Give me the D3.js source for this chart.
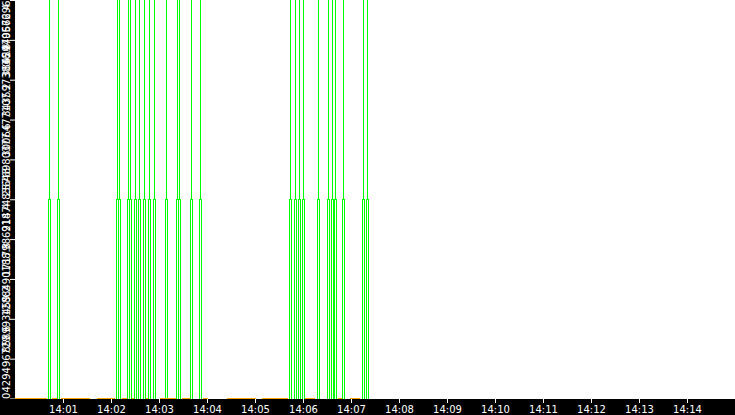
<!DOCTYPE html>
<html>
<head>
<meta charset="utf-8">
<script src="https://cdn.jsdelivr.net/npm/d3@7"></script>
<style>
html,body{margin:0;padding:0;background:#fff;overflow:hidden}
svg{display:block}
</style>
</head>
<body>
<svg id="chart" width="735" height="415"></svg>
<script>
// ---------- data ----------
const dayStart = "14:00:00";
const dayEnd = "14:15:00";
// spike events (seconds after 14:00:00)
const eventSeconds = [43, 54, 128, 130, 142, 144, 151, 155, 156, 162, 168, 174, 189, 203, 206, 220, 232,
                      344, 351, 356, 360, 379, 392, 397, 401, 411, 435, 440];
const peakValue = 4294967296;
const shoulderValue = 2147483648;
// orange series: stretches (seconds after 14:00:00) where its value is 0
const orangeStart = [0, 46, 57, 102, 134, 146, 164, 181, 209, 235, 265, 309, 362, 404, 419];
const orangeEnd   = [40, 52, 94, 125, 140, 149, 166, 201, 219, 241, 301, 341, 375, 409, 431];
const orangeValue = 0;
const yTickValues = [0, 429496729.6, 858993459.2, 1288490188.8, 1717986918.4, 2147483648,
                     2576980377.6, 3006477107.2, 3435973836.8, 3865470566.4, 4294967296];
const xTickLabels = ["14:01","14:02","14:03","14:04","14:05","14:06","14:07",
                     "14:08","14:09","14:10","14:11","14:12","14:13","14:14"];

// ---------- layout ----------
const W = 735, H = 415;
const left = 15, axisTop = 399;
const svg = d3.select("#chart");
const parseT = d3.timeParse("%H:%M:%S");
const parseM = d3.timeParse("%H:%M");
const t0 = parseT(dayStart), t1 = parseT(dayEnd);
const sec = s => new Date(t0.getTime() + s * 1000);

const x = d3.scaleTime().domain([t0, t1]).range([left, W]);
const y = d3.scaleLinear().domain([0, peakValue]).range([398.5, 0]);

svg.append("rect").attr("width", W).attr("height", H).attr("fill", "#fff");

// spikes
const halfWidthSec = 1.25;
const line = d3.line().x(d => x(sec(d[0]))).y(d => y(d[1]));
svg.append("g").selectAll("path").data(eventSeconds).join("path")
  .attr("d", s => line([
    [s - halfWidthSec, 0], [s - halfWidthSec, shoulderValue], [s, shoulderValue],
    [s, peakValue], [s, shoulderValue], [s + halfWidthSec, shoulderValue], [s + halfWidthSec, 0]
  ]))
  .attr("fill", "none").attr("stroke", "#00ff00").attr("stroke-width", 1)
  .attr("shape-rendering", "crispEdges");

// orange series
svg.append("g").selectAll("path").data(orangeStart.map((s, i) => [[s, orangeValue], [orangeEnd[i], orangeValue]]))
  .join("path").attr("d", line)
  .attr("fill", "none").attr("stroke", "#ffa500").attr("stroke-width", 1)
  .attr("shape-rendering", "crispEdges");

// y axis strip
svg.append("rect").attr("x", 0).attr("y", 0).attr("width", left).attr("height", H).attr("fill", "#000");
const yAxis = svg.append("g").attr("transform", `translate(${left},0)`)
  .call(d3.axisLeft(y).tickValues(yTickValues).tickSize(5).tickFormat(d => String(d)));
yAxis.select(".domain").remove();
yAxis.selectAll(".tick line").attr("stroke", "#fff");
const yMin = yTickValues[0], yMax = yTickValues[yTickValues.length - 1];
yAxis.selectAll(".tick text")
  .attr("x", null).attr("dy", null)
  .attr("text-anchor", d => d === yMin ? "start" : d === yMax ? "end" : "middle")
  .attr("transform", "translate(-5,0) rotate(-90)")
  .attr("fill", "#fff")
  .style("font-family", "'DejaVu Sans', sans-serif").style("font-size", "10px");

// x axis bar
svg.append("rect").attr("x", 0).attr("y", axisTop).attr("width", W).attr("height", H - axisTop).attr("fill", "#000");
const xAxis = svg.append("g").attr("transform", `translate(0,${axisTop})`)
  .call(d3.axisBottom(x).tickValues(xTickLabels.map(parseM).map(d => { const r = new Date(t0); r.setHours(d.getHours(), d.getMinutes(), 0, 0); return r; }))
    .tickSize(4).tickFormat(d3.timeFormat("%H:%M")));
xAxis.select(".domain").remove();
xAxis.selectAll(".tick line").attr("stroke", "#fff");
xAxis.selectAll(".tick text").attr("fill", "#fff")
  .style("font-family", "'DejaVu Sans', sans-serif").style("font-size", "10px");
</script>
</body>
</html>
